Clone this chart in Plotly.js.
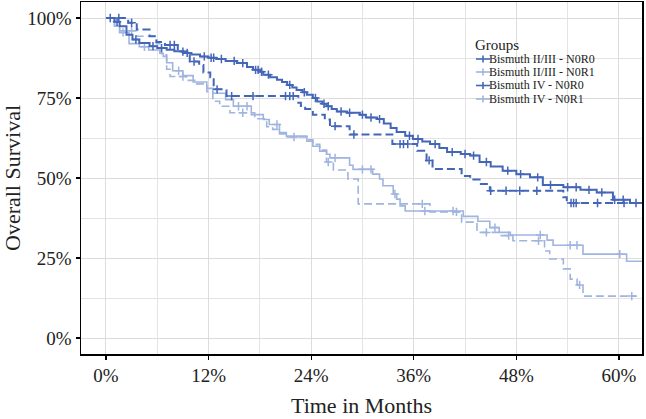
<!DOCTYPE html>
<html>
<head>
<meta charset="utf-8">
<script src="https://cdn.plot.ly/plotly-3.0.1.min.js"></script>
<style>
  html, body { margin: 0; padding: 0; background: #ffffff; }
  #chart { width: 646px; height: 419px; }
</style>
</head>
<body>
<div id="chart"></div>
<script>
// ---------- data ----------
const groups = ["Bismuth II/III - N0R0", "Bismuth II/III - N0R1", "Bismuth IV - N0R0", "Bismuth IV - N0R1"];

// Bismuth II/III - N0R0 (dark, solid)
const g1Time = [0, 1.0, 1.6, 2.4, 3.1, 3.9, 5.1, 6.0, 7.1, 8.0, 9.0, 10.0, 11.0, 12.0, 12.9, 14.0, 15.3, 16.5, 17.2, 18.0, 18.4, 19.2, 20.0, 20.6, 21.2, 21.8, 22.3, 23.0, 23.5, 24.2, 24.7, 25.3, 25.8, 26.4, 27.0, 28.2, 29.7, 30.4, 31.7, 32.5, 33.3, 34.0, 35.0, 35.9, 37.0, 37.9, 39.0, 39.9, 41.5, 42.6, 43.7, 45.0, 46.4, 48.0, 49.6, 51.1, 53.5, 55.5, 57.4, 59.3, 61.3, 62.7];
const g1Surv = [100, 98.8, 97.4, 94.8, 93.3, 92.2, 91.2, 90.6, 90.1, 89.6, 89.1, 88.6, 88.0, 87.6, 87.2, 86.6, 85.9, 84.7, 83.8, 83.2, 82.3, 81.5, 80.7, 80.0, 79.1, 78.3, 77.5, 76.8, 76.0, 75.0, 73.9, 73.2, 72.4, 71.6, 70.8, 70.4, 69.8, 68.9, 68.4, 67.0, 65.6, 64.4, 63.2, 62.2, 61.4, 60.6, 59.4, 58.1, 57.5, 57.0, 55.0, 53.6, 52.3, 51.2, 50.2, 47.8, 47.1, 46.3, 45.5, 43.2, 42.2, 42.2];
const g1Censor = [0.5, 1.3, 3.5, 5.5, 6.5, 9.5, 11.5, 12.3, 12.6, 13.5, 15.0, 16.0, 17.5, 17.8, 18.2, 19.0, 21.5, 23.2, 24.5, 25.5, 26.0, 27.5, 28.5, 30.0, 31.0, 32.0, 35.5, 36.5, 38.5, 40.5, 42.0, 43.0, 44.5, 47.0, 48.5, 50.5, 52.0, 54.0, 55.0, 56.5, 58.0, 59.5, 60.5, 62.0];

// Bismuth II/III - N0R1 (light, solid)
const g2Time = [0, 1.0, 1.6, 2.7, 3.9, 5.0, 6.3, 6.7, 7.1, 7.8, 9.0, 10.2, 11.8, 12.5, 14.0, 14.9, 17.0, 18.4, 19.1, 20.3, 21.1, 23.5, 24.2, 25.0, 25.8, 26.2, 28.5, 28.9, 31.2, 32.0, 32.4, 33.6, 34.0, 34.4, 35.0, 41.8, 43.5, 44.9, 46.0, 47.3, 51.6, 52.3, 55.8, 60.9, 62.7];
const g2Surv = [100, 97.5, 95.5, 92.0, 91.0, 90.0, 89.0, 88.0, 86.0, 83.5, 82.0, 80.0, 78.0, 76.5, 74.5, 72.4, 69.8, 68.3, 66.7, 64.2, 63.1, 61.5, 59.9, 58.4, 57.4, 56.3, 54.0, 52.7, 51.2, 49.7, 47.6, 45.0, 43.4, 41.3, 39.7, 38.0, 36.5, 34.5, 33.0, 32.2, 30.6, 29.0, 26.2, 24.0, 24.0];
const g2Censor = [2.0, 4.5, 8.5, 15.5, 16.5, 20.0, 26.8, 30.0, 31.0, 33.8, 37.3, 40.6, 45.5, 50.8, 54.3, 55.1, 60.1];

// Bismuth IV - N0R0 (dark, dashed)
const g3Time = [0, 2.6, 3.6, 5.1, 5.9, 6.9, 8.4, 9.8, 10.9, 11.4, 12.2, 12.6, 14.1, 22.5, 22.8, 23.3, 24.2, 25.6, 26.2, 28.5, 33.5, 36.4, 37.5, 38.2, 41.6, 42.6, 43.7, 44.9, 53.5, 53.9, 62.7];
const g3Surv = [100, 98.5, 96.4, 94.3, 92.5, 91.6, 89.5, 86.4, 85.3, 83.0, 81.5, 77.7, 75.6, 73.5, 72.5, 71.6, 69.8, 68.3, 66.2, 63.6, 60.6, 58.5, 55.5, 52.8, 50.6, 49.5, 48.1, 46.0, 44.0, 42.2, 42.2];
const g3Censor = [1.5, 3.0, 7.5, 8.0, 9.0, 10.3, 13.0, 14.7, 17.2, 21.0, 21.5, 21.9, 26.8, 29.0, 34.4, 34.8, 35.3, 37.8, 45.0, 46.8, 48.4, 50.4, 54.4, 54.7, 55.0, 57.5, 60.6];

// Bismuth IV - N0R1 (light, dashed)
const g4Time = [0, 1.0, 1.6, 3.6, 5.9, 6.5, 7.1, 7.5, 9.4, 10.6, 11.8, 12.5, 13.3, 14.5, 17.4, 18.8, 19.5, 20.3, 21.2, 23.5, 24.2, 25.0, 25.8, 26.6, 28.3, 29.5, 37.9, 41.6, 43.4, 46.0, 47.6, 51.3, 51.9, 53.5, 54.3, 55.1, 55.8, 62.1];
const g4Surv = [100, 97.5, 96.0, 94.3, 92.0, 88.5, 84.0, 81.7, 80.5, 79.4, 77.0, 74.0, 72.4, 70.4, 68.5, 66.0, 65.2, 63.8, 62.8, 61.9, 60.5, 58.7, 55.0, 52.5, 49.7, 41.9, 39.4, 36.2, 33.0, 32.0, 30.4, 27.2, 24.7, 21.6, 18.4, 16.6, 13.1, 13.1];
const g4Censor = [3.0, 9.0, 16.0, 22.0, 26.0, 37.0, 41.0, 44.5, 47.1, 50.6, 55.4, 61.5];

const xTickVals = [0, 12, 24, 36, 48, 60];
const xTickText = ["0%", "12%", "24%", "36%", "48%", "60%"];
const yTickVals = [0, 25, 50, 75, 100];
const yTickText = ["0%", "25%", "50%", "75%", "100%"];

// ---------- styling ----------
const DARK = "#4466b8";
const LIGHT = "#a0b4e0";
const FONT = "Liberation Serif, Times New Roman, serif";

const series = [
  { name: groups[1], t: g2Time, s: g2Surv, c: g2Censor, color: LIGHT, dash: "solid", w: 1.6 },
  { name: groups[3], t: g4Time, s: g4Surv, c: g4Censor, color: LIGHT, dash: "8px,4px", w: 1.6 },
  { name: groups[2], t: g3Time, s: g3Surv, c: g3Censor, color: DARK, dash: "8px,4px", w: 2 },
  { name: groups[0], t: g1Time, s: g1Surv, c: g1Censor, color: DARK, dash: "solid", w: 2 }
];

function stepAt(ts, ss, t) {
  let v = ss[0];
  for (let i = 0; i < ts.length; i++) { if (ts[i] <= t) v = ss[i]; }
  return v;
}

const traces = [];
series.forEach(function (g) {
  traces.push({
    type: "scatter", mode: "lines", x: g.t, y: g.s, name: g.name,
    line: { shape: "hv", color: g.color, width: g.w, dash: g.dash },
    showlegend: false, hoverinfo: "skip"
  });
  traces.push({
    type: "scatter", mode: "markers", x: g.c, y: g.c.map(function (t) { return stepAt(g.t, g.s, t); }),
    name: g.name + " (censored)",
    marker: { symbol: "cross-thin", size: 6, color: g.color, line: { color: g.color, width: 1.5 } },
    showlegend: false, hoverinfo: "skip"
  });
});

// ---------- hand-drawn legend (real text) ----------
const L = 81, R = 642, T = 2, B = 354;
function px(x) { return (x - L) / (R - L); }
function py(y) { return (B - y) / (B - T); }

const legendColors = [DARK, LIGHT, DARK, LIGHT];
const rowY = [59, 72, 85.5, 99];
const shapes = [{
  type: "rect", xref: "paper", yref: "paper", layer: "between",
  x0: px(474), x1: px(601), y0: py(105), y1: py(35),
  fillcolor: "#ffffff", line: { width: 0 }
}];
const annotations = [{
  xref: "paper", yref: "paper", x: px(473), y: py(45), xanchor: "left", yanchor: "middle",
  text: "Groups", showarrow: false, font: { family: FONT, size: 15, color: "#222222" }
}];
groups.forEach(function (name, i) {
  const yy = rowY[i];
  shapes.push({ type: "line", xref: "paper", yref: "paper", layer: "above",
    x0: px(476), x1: px(490), y0: py(yy), y1: py(yy), line: { color: legendColors[i], width: 1.6 } });
  shapes.push({ type: "line", xref: "paper", yref: "paper", layer: "above",
    x0: px(483), x1: px(483), y0: py(yy - 3.5), y1: py(yy + 3.5), line: { color: legendColors[i], width: 1.6 } });
  annotations.push({
    xref: "paper", yref: "paper", x: px(487), y: py(yy), xanchor: "left", yanchor: "middle",
    text: name, showarrow: false, font: { family: FONT, size: 12, color: "#222222" }
  });
});

const layout = {
  width: 646, height: 419,
  margin: { l: 81, r: 4, t: 2, b: 65, pad: 0 },
  paper_bgcolor: "#ffffff", plot_bgcolor: "#ffffff",
  font: { family: FONT, color: "#222222" },
  showlegend: false,
  xaxis: {
    range: [-2.92, 62.7], tickmode: "array", tickvals: xTickVals, ticktext: xTickText,
    showgrid: true, gridcolor: "#dcdcdc", gridwidth: 1,
    minor: { tickmode: "linear", tick0: 0, dtick: 6, showgrid: true, gridcolor: "#e4e4e4", gridwidth: 1, ticks: "" },
    zeroline: false, showline: true, mirror: true, linecolor: "#000000", linewidth: 1.5,
    ticks: "outside", ticklen: 4, tickwidth: 1.2, tickcolor: "#000000",
    tickfont: { family: FONT, size: 19, color: "#222222" },
    title: { text: "Time in Months", font: { family: FONT, size: 22, color: "#222222" }, standoff: 12 }
  },
  yaxis: {
    range: [-5, 105], tickmode: "array", tickvals: yTickVals, ticktext: yTickText,
    showgrid: true, gridcolor: "#dcdcdc", gridwidth: 1,
    minor: { tickmode: "linear", tick0: 0, dtick: 12.5, showgrid: true, gridcolor: "#e4e4e4", gridwidth: 1, ticks: "" },
    zeroline: false, showline: true, mirror: true, linecolor: "#000000", linewidth: 1.5,
    ticks: "outside", ticklen: 4, tickwidth: 1.2, tickcolor: "#000000",
    tickfont: { family: FONT, size: 19, color: "#222222" },
    title: { text: "Overall Survival", font: { family: FONT, size: 22, color: "#222222" }, standoff: 8 }
  },
  shapes: shapes,
  annotations: annotations
};

Plotly.newPlot("chart", traces, layout, { displayModeBar: false, staticPlot: true });
</script>
</body>
</html>
